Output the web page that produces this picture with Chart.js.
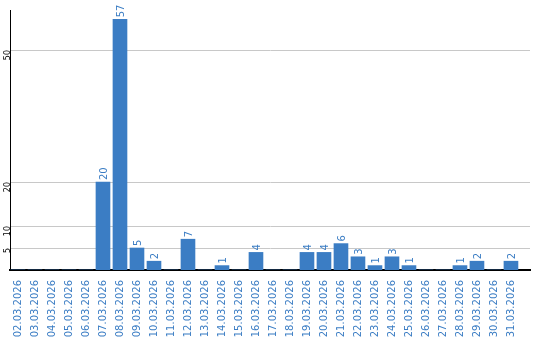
<!DOCTYPE html>
<html>
<head>
<meta charset="utf-8">
<script src="https://cdn.jsdelivr.net/npm/chart.js@4"></script>
<style>
  html, body { margin: 0; padding: 0; background: #fff; }
  #wrap { width: 540px; height: 340px; }
</style>
</head>
<body>
<div id="wrap"><canvas id="myChart" width="540" height="340"></canvas></div>
<script>
const days = [
    '02.03.2026', '03.03.2026', '04.03.2026', '05.03.2026', '06.03.2026',
    '07.03.2026', '08.03.2026', '09.03.2026', '10.03.2026', '11.03.2026',
    '12.03.2026', '13.03.2026', '14.03.2026', '15.03.2026', '16.03.2026',
    '17.03.2026', '18.03.2026', '19.03.2026', '20.03.2026', '21.03.2026',
    '22.03.2026', '23.03.2026', '24.03.2026', '25.03.2026', '26.03.2026',
    '27.03.2026', '28.03.2026', '29.03.2026', '30.03.2026', '31.03.2026'
];
const counts = [0, 0, 0, 0, 0, 20, 57, 5, 2, 0, 7, 0, 1, 0, 4, 0, 0, 4, 4, 6, 3, 1, 3, 1, 0, 0, 1, 2, 0, 2];
const yTicks = [5, 10, 20, 50];

const blue = 'rgb(59, 125, 196)';

// values written above each bar, turned on their side
const barValues = {
    id: 'barValues',
    afterDatasetsDraw(chart) {
        const ctx = chart.ctx;
        const meta = chart.getDatasetMeta(0);
        ctx.save();
        ctx.fillStyle = blue;
        ctx.font = '10px "DejaVu Sans"';
        ctx.textAlign = 'left';
        ctx.textBaseline = 'middle';
        meta.data.forEach((bar, i) => {
            if (!counts[i]) return;
            ctx.save();
            ctx.translate(bar.x + 1, bar.y - 2);
            ctx.rotate(-Math.PI / 2);
            ctx.fillText(String(counts[i]), 0, 0);
            ctx.restore();
        });
        ctx.restore();
    }
};

const config = {
    type: 'bar',
    data: {
        datasets: [{
            data: counts.map((v, i) => ({ x: i, y: v })),
            backgroundColor: blue,
            borderWidth: 0,
            barThickness: 14
        }]
    },
    options: {
        responsive: false,
        animation: false,
        layout: { padding: { top: 10, right: 10, bottom: 0, left: 0 } },
        plugins: {
            legend: { display: false },
            tooltip: { enabled: false }
        },
        scales: {
            x: {
                type: 'linear',
                offset: false,
                bounds: 'data',
                min: -0.47,
                max: 30.12,
                afterBuildTicks: (scale) => {
                    scale.ticks = days.map((d, i) => ({ value: i }));
                },
                afterFit: (scale) => {
                    scale.height = 70;
                    scale.paddingLeft = 0;
                    scale.paddingRight = 0;
                },
                grid: { display: false },
                border: { display: true, color: '#000', width: 2 },
                ticks: {
                    autoSkip: false,
                    minRotation: 90,
                    maxRotation: 90,
                    padding: 2,
                    color: blue,
                    font: { family: 'DejaVu Sans', size: 10 },
                    callback: (value) => days[value]
                }
            },
            y: {
                min: 0,
                max: 59.1,
                afterBuildTicks: (scale) => {
                    scale.ticks = yTicks.map(v => ({ value: v }));
                },
                afterFit: (scale) => {
                    scale.width = 10;
                    scale.paddingTop = 0;
                    scale.paddingBottom = 0;
                },
                grid: { color: '#c8c8c8', lineWidth: 1, drawTicks: false },
                border: { display: true, color: '#000', width: 1 },
                ticks: {
                    minRotation: 90,
                    maxRotation: 90,
                    padding: 2,
                    color: '#000',
                    font: { family: 'DejaVu Sans', size: 8 }
                }
            }
        }
    },
    plugins: [barValues]
};

new Chart(document.getElementById('myChart'), config);
</script>
</body>
</html>
